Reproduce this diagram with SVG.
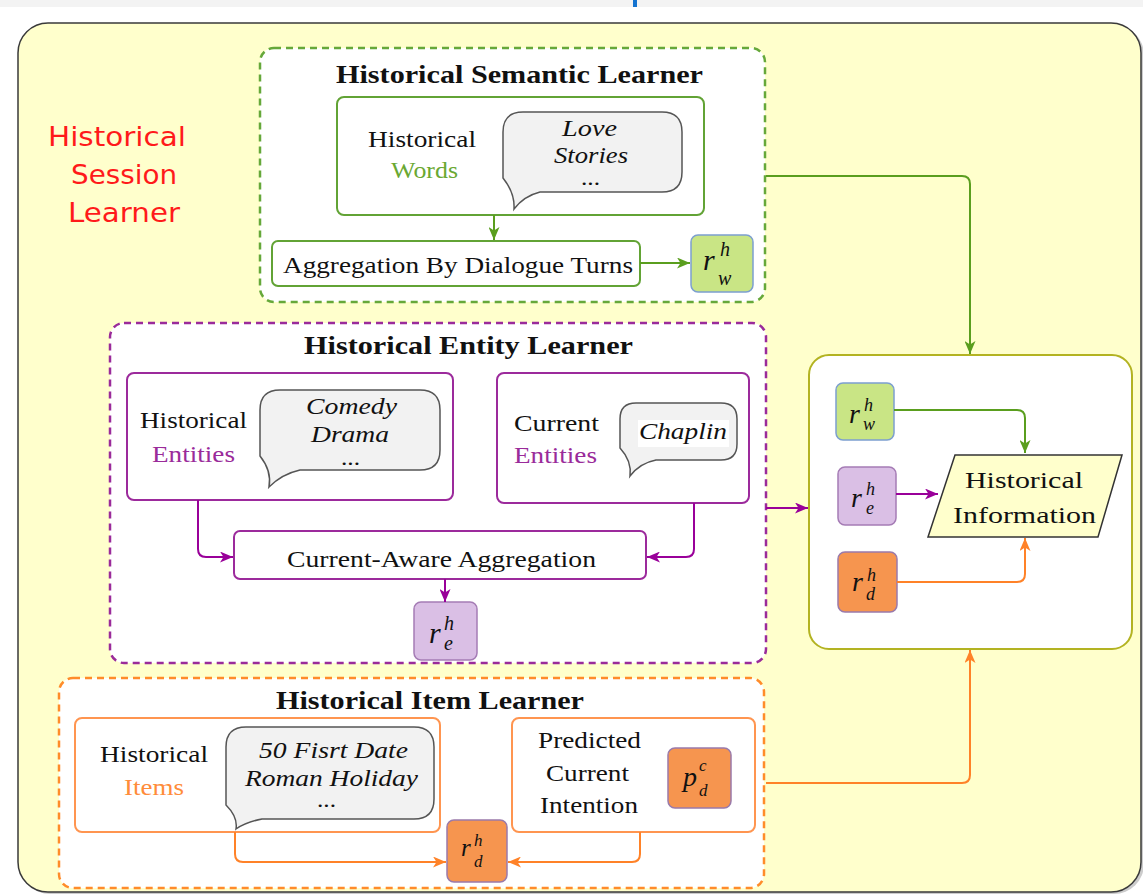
<svg xmlns="http://www.w3.org/2000/svg" width="1143" height="895" viewBox="0 0 1143 895">
  <defs>
    <style>
      .t { font-family: 'Liberation Serif', 'Times New Roman', serif; font-size: 23px; fill: #111; }
      .dots { font-family: 'Liberation Serif', 'Times New Roman', serif; font-size: 20px; fill: #111; }
      .title { font-family: 'Liberation Serif', 'Times New Roman', serif; font-size: 26px; font-weight: bold; fill: #111; }
      .it { font-family: 'Liberation Serif', 'Times New Roman', serif; font-size: 23px; font-style: italic; fill: #111; }
      .m { font-family: 'Liberation Serif', 'Times New Roman', serif; font-style: italic; fill: #111; }
      .red { font-family: 'Comic Sans MS', 'DejaVu Sans', sans-serif; font-size: 27px; fill: #ff1a1a; }
      .bubble { fill: #f2f2f2; stroke: #555; stroke-width: 1.5; }
      .gbox { fill: #fff; stroke: #62a335; stroke-width: 2; }
      .pbox { fill: #fff; stroke: #9c2a9c; stroke-width: 2; }
      .obox { fill: #fff; stroke: #ff9550; stroke-width: 2; }
      .gdash { fill: #fff; stroke: #66a83a; stroke-width: 2.5; stroke-dasharray: 7 5; }
      .pdash { fill: #fff; stroke: #9a2b9a; stroke-width: 2.5; stroke-dasharray: 7 5; }
      .odash { fill: #fff; stroke: #ff8c2a; stroke-width: 2.5; stroke-dasharray: 7 5; }
      .vw { fill: #c9e585; stroke: #7c9fcf; stroke-width: 1.5; }
      .ve { fill: #dabfe5; stroke: #a57cb5; stroke-width: 1.5; }
      .vd { fill: #f6954f; stroke: #9a7aaa; stroke-width: 1.5; }
      .cg { fill: none; stroke: #5a9e1e; stroke-width: 2; }
      .cp { fill: none; stroke: #990099; stroke-width: 2; }
      .co { fill: none; stroke: #ff8228; stroke-width: 2; }
      .green { fill: #6aa832; }
      .purple { fill: #9a2b9a; }
      .orange { fill: #ff8c3a; }
    </style>
    <marker id="ag" markerUnits="userSpaceOnUse" markerWidth="13" markerHeight="11" viewBox="0 0 13 11" refX="13" refY="5.5" orient="auto">
      <path d="M0,0 L13,5.5 L0,11 L3.5,5.5 Z" fill="#5a9e1e"/>
    </marker>
    <marker id="ap" markerUnits="userSpaceOnUse" markerWidth="13" markerHeight="11" viewBox="0 0 13 11" refX="13" refY="5.5" orient="auto">
      <path d="M0,0 L13,5.5 L0,11 L3.5,5.5 Z" fill="#990099"/>
    </marker>
    <marker id="ao" markerUnits="userSpaceOnUse" markerWidth="13" markerHeight="11" viewBox="0 0 13 11" refX="13" refY="5.5" orient="auto">
      <path d="M0,0 L13,5.5 L0,11 L3.5,5.5 Z" fill="#ff8228"/>
    </marker>
  </defs>

  <!-- page background and top bar -->
  <rect x="0" y="0" width="1143" height="895" fill="#fff"/>
  <rect x="0" y="0" width="1143" height="7" fill="#f3f3f3"/>
  <rect x="633" y="0" width="4" height="7" fill="#1473d0"/>

  <!-- outer container -->
  <g id="session-learner">
    <rect x="20" y="25" width="1124" height="869" rx="30" fill="#999" opacity="0.5"/>
    <rect x="18" y="23" width="1123" height="869" rx="30" fill="#ffffcc" stroke="#3a3a3a" stroke-width="1.5"/>
    <text class="red" x="48" y="146" textLength="138" lengthAdjust="spacingAndGlyphs">Historical</text>
    <text class="red" x="71" y="184" textLength="106" lengthAdjust="spacingAndGlyphs">Session</text>
    <text class="red" x="68" y="222" textLength="112" lengthAdjust="spacingAndGlyphs">Learner</text>
  </g>

  <!-- semantic learner -->
  <g id="semantic-learner">
    <rect class="gdash" x="260" y="48" width="505" height="254" rx="14"/>
    <text class="title" x="336" y="83" textLength="367" lengthAdjust="spacingAndGlyphs">Historical Semantic Learner</text>
  </g>
  <g id="historical-words">
    <rect class="gbox" x="337" y="97" width="367" height="118" rx="7"/>
    <text class="t" x="368" y="147" textLength="108" lengthAdjust="spacingAndGlyphs">Historical</text>
    <text class="t green" x="391" y="178" textLength="67" lengthAdjust="spacingAndGlyphs">Words</text>
    <path class="bubble" d="M523,112 H662 Q682,112 682,132 V172 Q682,192 662,192 H540 Q524,196 514,209 Q515,193 503,178 V132 Q503,112 523,112 Z"/>
    <text class="it" x="562" y="136" textLength="55" lengthAdjust="spacingAndGlyphs">Love</text>
    <text class="it" x="554" y="163" textLength="74" lengthAdjust="spacingAndGlyphs">Stories</text>
    <text class="dots" x="581" y="185" textLength="19" lengthAdjust="spacingAndGlyphs">...</text>
  </g>
  <g id="aggregation-turns">
    <rect class="gbox" x="272" y="241" width="368" height="45" rx="6"/>
    <text class="t" x="283" y="273" textLength="350" lengthAdjust="spacingAndGlyphs">Aggregation By Dialogue Turns</text>
  </g>
  <g id="rwh-semantic">
    <rect class="vw" x="691" y="235" width="62" height="57" rx="7"/>
    <text class="m" x="703" y="270" font-size="30">r</text>
    <text class="m" x="720" y="256" font-size="20">h</text>
    <text class="m" x="718" y="285" font-size="20">w</text>
  </g>

  <!-- entity learner -->
  <g id="entity-learner">
    <rect class="pdash" x="110" y="323" width="656" height="340" rx="14"/>
    <text class="title" x="304" y="354" textLength="329" lengthAdjust="spacingAndGlyphs">Historical Entity Learner</text>
  </g>
  <g id="historical-entities">
    <rect class="pbox" x="127" y="373" width="326" height="127" rx="7"/>
    <text class="t" x="140" y="428" textLength="107" lengthAdjust="spacingAndGlyphs">Historical</text>
    <text class="t purple" x="152" y="462" textLength="83" lengthAdjust="spacingAndGlyphs">Entities</text>
    <path class="bubble" d="M280,390 H420 Q440,390 440,410 V450 Q440,470 420,470 H300 Q282,474 269,487 Q272,471 260,456 V410 Q260,390 280,390 Z"/>
    <text class="it" x="306" y="414" textLength="91" lengthAdjust="spacingAndGlyphs">Comedy</text>
    <text class="it" x="311" y="442" textLength="78" lengthAdjust="spacingAndGlyphs">Drama</text>
    <text class="dots" x="341" y="465" textLength="19" lengthAdjust="spacingAndGlyphs">...</text>
  </g>
  <g id="current-entities">
    <rect class="pbox" x="497" y="373" width="252" height="130" rx="7"/>
    <text class="t" x="514" y="431" textLength="85" lengthAdjust="spacingAndGlyphs">Current</text>
    <text class="t purple" x="514" y="463" textLength="83" lengthAdjust="spacingAndGlyphs">Entities</text>
    <path class="bubble" d="M636,403 H721 Q737,403 737,419 V444 Q737,460 721,460 H656 Q640,463 630,476 Q632,461 620,448 V419 Q620,403 636,403 Z"/>
    <rect x="638" y="420" width="91" height="27" fill="#fff"/>
    <text class="it" x="639" y="439" textLength="88" lengthAdjust="spacingAndGlyphs">Chaplin</text>
  </g>
  <g id="current-aware-aggregation">
    <rect class="pbox" x="234" y="531" width="412" height="48" rx="6"/>
    <text class="t" x="287" y="567" textLength="309" lengthAdjust="spacingAndGlyphs">Current-Aware Aggregation</text>
  </g>
  <g id="reh-entity">
    <rect class="ve" x="414" y="602" width="63" height="58" rx="7"/>
    <text class="m" x="429" y="643" font-size="30">r</text>
    <text class="m" x="444" y="630" font-size="20">h</text>
    <text class="m" x="444" y="650" font-size="20">e</text>
  </g>

  <!-- item learner -->
  <g id="item-learner">
    <rect class="odash" x="59" y="678" width="705" height="210" rx="14"/>
    <text class="title" x="276" y="709" textLength="308" lengthAdjust="spacingAndGlyphs">Historical Item Learner</text>
  </g>
  <g id="historical-items">
    <rect class="obox" x="75" y="718" width="365" height="114" rx="7"/>
    <text class="t" x="100" y="762" textLength="108" lengthAdjust="spacingAndGlyphs">Historical</text>
    <text class="t orange" x="124" y="795" textLength="60" lengthAdjust="spacingAndGlyphs">Items</text>
    <path class="bubble" d="M246,727 H414 Q434,727 434,747 V799 Q434,819 414,819 H262 Q246,822 236,829 Q238,817 226,805 V747 Q226,727 246,727 Z"/>
    <text class="it" x="259" y="758" textLength="149" lengthAdjust="spacingAndGlyphs">50 Fisrt Date</text>
    <text class="it" x="245" y="786" textLength="173" lengthAdjust="spacingAndGlyphs">Roman Holiday</text>
    <text class="dots" x="317" y="807" textLength="19" lengthAdjust="spacingAndGlyphs">...</text>
  </g>
  <g id="predicted-intention">
    <rect class="obox" x="512" y="718" width="243" height="114" rx="7"/>
    <text class="t" x="538" y="748" textLength="103" lengthAdjust="spacingAndGlyphs">Predicted</text>
    <text class="t" x="546" y="781" textLength="83" lengthAdjust="spacingAndGlyphs">Current</text>
    <text class="t" x="540" y="813" textLength="98" lengthAdjust="spacingAndGlyphs">Intention</text>
    <rect class="vd" x="668" y="748" width="63" height="60" rx="7"/>
    <text class="m" x="683" y="786" font-size="28">p</text>
    <text class="m" x="699" y="771" font-size="17">c</text>
    <text class="m" x="699" y="796" font-size="17">d</text>
  </g>
  <g id="rdh-item">
    <rect class="vd" x="447" y="820" width="60" height="62" rx="7"/>
    <text class="m" x="461" y="856" font-size="25">r</text>
    <text class="m" x="474" y="846" font-size="17">h</text>
    <text class="m" x="474" y="867" font-size="17">d</text>
  </g>

  <!-- historical information block -->
  <g id="historical-information">
    <rect x="809" y="355" width="323" height="294" rx="20" fill="#fff" stroke="#b3b322" stroke-width="2"/>
    <polygon points="955,455 1122,455 1098,537 928,537" fill="#ffffcc" stroke="#333" stroke-width="1.5"/>
    <text class="t" x="965" y="488" textLength="118" lengthAdjust="spacingAndGlyphs" style="font-size:24px">Historical</text>
    <text class="t" x="953" y="523" textLength="143" lengthAdjust="spacingAndGlyphs" style="font-size:24px">Information</text>
  </g>
  <g id="rwh-info">
    <rect class="vw" x="836" y="383" width="58" height="57" rx="7"/>
    <text class="m" x="849" y="423" font-size="28">r</text>
    <text class="m" x="864" y="411" font-size="18">h</text>
    <text class="m" x="863" y="430" font-size="18">w</text>
  </g>
  <g id="reh-info">
    <rect class="ve" x="838" y="467" width="58" height="58" rx="7"/>
    <text class="m" x="851" y="507" font-size="28">r</text>
    <text class="m" x="866" y="495" font-size="18">h</text>
    <text class="m" x="866" y="514" font-size="18">e</text>
  </g>
  <g id="rdh-info">
    <rect class="vd" x="838" y="552" width="59" height="60" rx="7"/>
    <text class="m" x="852" y="591" font-size="28">r</text>
    <text class="m" x="867" y="581" font-size="18">h</text>
    <text class="m" x="866" y="600" font-size="18">d</text>
  </g>

  <!-- connectors -->
  <g id="connectors">
    <path class="cg" d="M494,215 V240" marker-end="url(#ag)"/>
    <path class="cg" d="M640,263 H690" marker-end="url(#ag)"/>
    <path class="cg" d="M766,176 H962 Q970,176 970,184 V354" marker-end="url(#ag)"/>
    <path class="cp" d="M198,500 V549 Q198,557 206,557 H233" marker-end="url(#ap)"/>
    <path class="cp" d="M694,503 V549 Q694,557 686,557 H647" marker-end="url(#ap)"/>
    <path class="cp" d="M445,579 V602" marker-end="url(#ap)"/>
    <path class="cp" d="M766,508 H808" marker-end="url(#ap)"/>
    <path class="co" d="M235,832 V854 Q235,862 243,862 H446" marker-end="url(#ao)"/>
    <path class="co" d="M640,832 V854 Q640,862 632,862 H508" marker-end="url(#ao)"/>
    <path class="co" d="M766,783 H962 Q970,783 970,775 V650" marker-end="url(#ao)"/>
    <path class="cg" d="M894,410 H1017 Q1025,410 1025,418 V453" marker-end="url(#ag)"/>
    <path class="cp" d="M896,494 H938" marker-end="url(#ap)"/>
    <path class="co" d="M897,582 H1017 Q1025,582 1025,574 V538" marker-end="url(#ao)"/>
  </g>
</svg>
